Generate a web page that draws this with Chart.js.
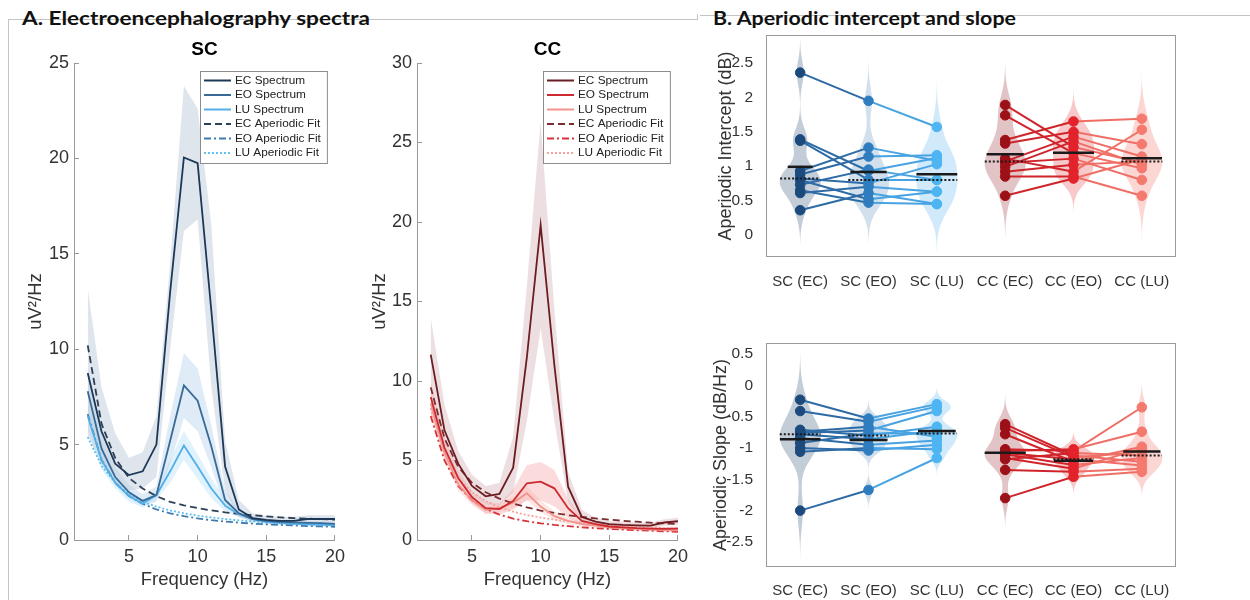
<!DOCTYPE html>
<html><head><meta charset="utf-8">
<script src="https://cdn.jsdelivr.net/npm/chart.js@4.4.1/dist/chart.umd.min.js"></script>
<style>
html,body{margin:0;padding:0;background:#fff}
body{width:1250px;height:600px;position:relative;overflow:hidden;font-family:'Liberation Sans',Arial,sans-serif}
canvas{position:absolute}
.hdr{position:absolute;font-family:Lato,'Open Sans',sans-serif;font-weight:700;font-size:18px;line-height:18px;white-space:nowrap;color:#111;transform-origin:left top}
.ln{position:absolute;background:#c4c4c4}
</style></head><body>
<div class="ln" style="left:8px;top:19px;width:690px;height:1px"></div>
<div class="ln" style="left:8px;top:19px;width:1px;height:581px"></div>
<div class="ln" style="left:697px;top:14px;width:1px;height:6px"></div>
<div class="ln" style="left:700px;top:15px;width:550px;height:1px"></div>
<div id="hA" class="hdr" style="left:22px;top:9px" data-w="348">A. Electroencephalography spectra</div>
<div id="hB" class="hdr" style="left:713px;top:9px" data-w="303">B. Aperiodic intercept and slope</div>
<canvas id="cSC" width="356" height="600" style="left:0;top:0"></canvas>
<canvas id="cCC" width="354" height="600" style="left:345px;top:0"></canvas>
<canvas id="cInt" width="550" height="280" style="left:700px;top:20px"></canvas>
<canvas id="cSlp" width="550" height="300" style="left:700px;top:300px"></canvas>
<script>
// ---------------- DATA ----------------
const freqHz = [2,3,4,5,6,7,8,9,10,11,12,13,14,15,16,17,18,19,20];
const freqTicks = [5,10,15,20];
const scYTicks = [0,5,10,15,20,25];
const ccYTicks = [0,5,10,15,20,25,30];

// SC spectra (uV^2/Hz)
const scEC = [8.75,5.7,4.0,3.4,3.6,5.0,13.0,20.05,19.75,12.0,3.85,1.6,1.15,1.05,1.0,1.0,1.1,1.1,1.1];
const scEO = [7.8,4.8,3.3,2.5,2.05,2.35,5.2,8.1,7.3,4.9,2.1,1.4,1.1,1.0,0.95,0.92,0.9,0.88,0.85];
const scLU = [6.5,4.2,3.0,2.3,1.9,2.35,3.6,4.95,3.85,2.7,1.8,1.35,1.1,0.95,0.9,0.85,0.82,0.8,0.78];
const scECfit = [10.2,6.1,4.3,3.25,2.7,2.3,2.0,1.82,1.67,1.55,1.45,1.37,1.3,1.24,1.19,1.15,1.12,1.09,1.07];
const scEOfit = [6.6,4.2,3.0,2.3,1.9,1.6,1.4,1.25,1.13,1.04,0.97,0.91,0.86,0.82,0.79,0.76,0.73,0.71,0.69];
const scLUfit = [5.4,3.9,3.0,2.4,2.0,1.75,1.55,1.4,1.28,1.18,1.1,1.03,0.97,0.92,0.88,0.85,0.82,0.8,0.78];
const scEChi = [13.2,8.0,5.6,4.3,4.6,6.5,14.5,23.8,22.6,16.5,5.2,2.1,1.4,1.25,1.2,1.2,1.3,1.3,1.3];
const scEClo = [5.5,4.0,3.0,2.6,2.7,3.3,10.0,16.2,16.8,8.0,2.6,1.2,0.95,0.85,0.82,0.8,0.9,0.9,0.9];
const scEOhi = [8.8,5.5,3.8,2.9,2.4,2.8,6.5,9.8,9.0,6.0,2.6,1.6,1.25,1.1,1.05,1.0,1.0,0.98,0.95];
const scEOlo = [6.8,4.2,2.9,2.2,1.8,2.0,4.0,6.4,5.7,3.8,1.7,1.2,0.95,0.9,0.85,0.84,0.8,0.78,0.75];
const scLUhi = [7.2,4.7,3.3,2.6,2.1,2.6,4.2,5.7,4.5,3.2,2.2,1.55,1.2,1.05,1.0,0.95,0.9,0.88,0.86];
const scLUlo = [5.8,3.7,2.7,2.0,1.7,2.1,3.0,4.2,3.2,2.2,1.5,1.2,1.0,0.85,0.8,0.76,0.74,0.72,0.7];

// CC spectra (uV^2/Hz)
const ccEC = [11.66,6.9,4.8,3.4,2.75,2.9,4.55,11.5,19.8,11.0,3.35,1.45,1.15,1.0,0.95,0.92,0.9,1.1,1.18];
const ccEO = [9.0,5.8,3.9,2.7,2.0,1.95,2.45,3.57,3.67,3.25,2.0,1.2,1.0,0.85,0.8,0.75,0.72,0.7,0.72];
const ccLU = [8.6,5.5,3.5,2.5,1.9,2.0,2.35,2.94,2.1,1.5,1.2,1.0,0.9,0.8,0.75,0.7,0.66,0.63,0.6];
const ccECfit = [9.6,6.4,4.6,3.6,3.0,2.6,2.3,2.05,1.85,1.7,1.56,1.45,1.36,1.28,1.21,1.15,1.09,1.04,1.0];
const ccEOfit = [7.8,5.0,3.4,2.5,1.95,1.6,1.35,1.18,1.05,0.95,0.87,0.8,0.74,0.69,0.65,0.61,0.58,0.55,0.52];
const ccLUfit = [8.3,5.5,3.9,3.0,2.45,2.05,1.78,1.57,1.41,1.28,1.17,1.08,1.0,0.94,0.88,0.83,0.79,0.75,0.72];
const ccEChi = [14.0,8.5,5.6,4.1,3.4,3.6,6.5,16.0,26.3,14.5,4.3,1.9,1.4,1.2,1.15,1.1,1.1,1.3,1.4];
const ccEClo = [9.4,5.6,3.9,2.8,2.2,2.2,3.0,7.5,13.3,7.5,2.4,1.05,0.9,0.8,0.75,0.74,0.72,0.9,0.95];
const ccEOhi = [10.0,6.5,4.4,3.1,2.4,2.3,3.2,4.7,4.9,4.4,2.6,1.45,1.15,1.0,0.95,0.88,0.85,0.82,0.85];
const ccEOlo = [8.0,5.1,3.4,2.3,1.65,1.6,1.9,2.5,2.5,2.1,1.4,0.95,0.85,0.7,0.65,0.62,0.6,0.58,0.6];
const ccLUhi = [9.4,6.0,3.9,2.8,2.15,2.25,2.7,3.4,2.5,1.8,1.4,1.15,1.02,0.9,0.85,0.8,0.75,0.72,0.7];
const ccLUlo = [7.8,5.0,3.1,2.2,1.65,1.75,2.0,2.5,1.75,1.25,1.0,0.86,0.78,0.7,0.65,0.6,0.57,0.54,0.5];

// Panel B: conditions and per-subject values
const conditionLabels = ['SC (EC)','SC (EO)','SC (LU)','CC (EC)','CC (EO)','CC (LU)'];
const intTicks = [0,0.5,1,1.5,2,2.5];
const slpTicks = [-2.5,-2,-1.5,-1,-0.5,0,0.5];

const intSC_EC = [2.36,1.39,1.37,0.93,0.88,0.82,0.80,0.73,0.65,0.61,0.36];
const intSC_EO = [1.95,0.93,0.80,1.27,1.14,0.75,0.52,0.95,0.47,0.70,0.61];
const intSC_LU = [1.57,1.12,0.80,1.08,1.16,1.03,0.63,0.80,0.45,0.63,0.45];
const intCC_EC = [1.89,1.74,1.38,1.33,1.11,1.07,1.05,0.99,0.92,0.85,0.57];
const intCC_EO = [1.28,1.19,1.65,1.50,0.92,1.43,1.11,1.36,1.02,0.85,0.82];
const intCC_LU = [1.05,0.97,1.69,1.32,1.53,1.14,0.80,1.02,1.07,0.57,1.10];

const slpSC_EC = [-0.23,-0.41,-0.71,-0.74,-0.76,-0.78,-0.84,-0.92,-1.00,-1.06,-2.00];
const slpSC_EO = [-0.53,-0.58,-0.80,-0.66,-0.72,-0.86,-0.95,-0.77,-1.04,-1.00,-1.67];
const slpSC_LU = [-0.30,-0.34,-0.66,-0.82,-0.41,-0.72,-0.88,-0.77,-0.95,-1.02,-1.16];
const slpCC_EC = [-0.62,-0.68,-0.78,-1.02,-1.05,-1.08,-1.10,-1.16,-1.18,-1.35,-1.80];
const slpCC_EO = [-1.12,-1.15,-1.22,-1.05,-1.02,-1.18,-1.27,-1.33,-1.08,-1.38,-1.46];
const slpCC_LU = [-1.22,-1.06,-0.98,-0.35,-0.74,-1.28,-1.16,-1.01,-1.12,-1.33,-1.38];

// kernel bandwidths of the violins
const intBandwidth = [0.17,0.20,0.23,0.21,0.16,0.23];
const slpBandwidth = [0.26,0.10,0.09,0.16,0.10,0.14];

// ---------------- STYLE ----------------
Chart.defaults.font.family = "'Liberation Sans', Arial, Helvetica, sans-serif";
Chart.defaults.color = '#333';
Chart.defaults.animation = false;

const pts = arr => freqHz.map((f,i)=>({x:f,y:arr[i]}));

const boxLegend = {
  id:'boxLegend',
  afterDatasetsDraw(chart){
    const ctx = chart.ctx, a = chart.chartArea;
    const items = chart.data.datasets.filter(d=>d.inLegend);
    ctx.save();
    ctx.font = "11.8px 'Liberation Sans', Arial, sans-serif";
    const tw = Math.max(...items.map(d=>ctx.measureText(d.label).width));
    const w = 35 + tw + 6, rowH = 14.5, h = items.length*rowH + 5;
    const x = Math.round(a.right - 8 - w), y = Math.round(a.top + 8);
    ctx.fillStyle = '#fff'; ctx.fillRect(x,y,w,h);
    ctx.strokeStyle = '#8c8c8c'; ctx.lineWidth = 1; ctx.strokeRect(x+0.5,y+0.5,w,h);
    items.forEach((d,i)=>{
      const cy = y + 9.5 + rowH*i;
      ctx.setLineDash(d.borderDash || []);
      ctx.strokeStyle = d.borderColor; ctx.lineWidth = 2;
      ctx.beginPath(); ctx.moveTo(x+4,cy); ctx.lineTo(x+31,cy); ctx.stroke();
      ctx.setLineDash([]);
      ctx.fillStyle = '#222'; ctx.textBaseline = 'middle'; ctx.textAlign = 'left';
      ctx.fillText(d.label, x+35, cy);
    });
    ctx.restore();
  }
};

function spectraChart(id, o){
  const names = ['EC','EO','LU'];
  const dashes = [[7,4],[7,3,2,3],[2,2]];
  const ds = [];
  o.spec.forEach((s,i)=>ds.push({label:names[i]+' Spectrum', data:pts(s), borderColor:o.lineCols[i], borderWidth:1.8, pointRadius:0, fill:false, inLegend:true}));
  o.fit.forEach((s,i)=>ds.push({label:names[i]+' Aperiodic Fit', data:pts(s), borderColor:o.fitCols[i], borderWidth:1.8, borderDash:dashes[i], pointRadius:0, fill:false, inLegend:true}));
  o.hi.forEach((s,i)=>{
    ds.push({label:'', data:pts(s), borderWidth:0, borderColor:'rgba(0,0,0,0)', backgroundColor:o.bandCols[i], pointRadius:0, fill:'+1'});
    ds.push({label:'', data:pts(o.lo[i]), borderWidth:0, borderColor:'rgba(0,0,0,0)', pointRadius:0, fill:false});
  });
  return new Chart(document.getElementById(id), {
    type:'line',
    data:{datasets:ds},
    options:{
      responsive:false, animation:false,
      layout:{padding:{left:0,right:0,top:0,bottom:0}},
      plugins:{legend:{display:false}, tooltip:{enabled:false}},
      scales:{
        x:{type:'linear', min:1, max:20,
           afterBuildTicks:s=>{s.ticks = freqTicks.map(v=>({value:v}));},
           afterFit:s=>{s.height = 60;},
           grid:{display:true, drawOnChartArea:false, drawTicks:true, tickLength:-5, tickColor:'#9a9a9a'},
           border:{display:true, color:'#9a9a9a'},
           ticks:{font:{size:18}, padding:11, maxRotation:0, color:'#333'},
           title:{display:true, text:'Frequency (Hz)', font:{size:18.5}, color:'#333', padding:{top:0,bottom:9}}},
        xt:{type:'linear', position:'top', min:1, max:20,
           afterFit:s=>{s.height = 63;},
           grid:{display:false}, border:{display:false}, ticks:{display:false},
           title:{display:true, text:o.title, font:{size:19, weight:'bold'}, color:'#000', padding:{top:38,bottom:0}}},
        y:{type:'linear', min:0, max:o.yMax,
           afterBuildTicks:s=>{s.ticks = o.yTicks.map(v=>({value:v}));},
           afterFit:s=>{s.width = o.yWidth;},
           grid:{display:true, drawOnChartArea:false, drawTicks:true, tickLength:-5, tickColor:'#9a9a9a'},
           border:{display:true, color:'#9a9a9a'},
           ticks:{font:{size:18}, padding:10, color:'#333'},
           title:{display:true, text:'uV²/Hz', font:{size:18.5}, color:'#333', padding:{top:o.yTitlePad,bottom:0}}}
      }
    },
    plugins:[boxLegend]
  });
}

spectraChart('cSC', {title:'SC', yMax:25, yTicks:scYTicks, yWidth:74, yTitlePad:25,
  spec:[scEC,scEO,scLU], fit:[scECfit,scEOfit,scLUfit], hi:[scEChi,scEOhi,scLUhi], lo:[scEClo,scEOlo,scLUlo],
  lineCols:['#1d3857','#386a98','#52aee6'], fitCols:['#2c4058','#3f7ab0','#5ec2f0'],
  bandCols:['rgba(190,203,218,0.5)','rgba(185,212,238,0.45)','rgba(185,226,250,0.45)']});
spectraChart('cCC', {title:'CC', yMax:30, yTicks:ccYTicks, yWidth:72, yTitlePad:24,
  spec:[ccEC,ccEO,ccLU], fit:[ccECfit,ccEOfit,ccLUfit], hi:[ccEChi,ccEOhi,ccLUhi], lo:[ccEClo,ccEOlo,ccLUlo],
  lineCols:['#6b1d22','#cc2a30','#f2948c'], fitCols:['#7a2c30','#d8333a','#f5a39c'],
  bandCols:['rgba(215,185,188,0.45)','rgba(245,170,172,0.42)','rgba(250,195,190,0.4)']});

// ---------------- VIOLINS ----------------
function median(a){const s=[...a].sort((p,q)=>p-q), n=s.length; return n%2 ? s[(n-1)/2] : (s[n/2-1]+s[n/2])/2;}
function mean(a){return a.reduce((p,q)=>p+q,0)/a.length;}
function kde(vals, bw, halfW){
  const N = 120, lo = Math.min(...vals)-3*bw, hi = Math.max(...vals)+3*bw;
  const ys=[], d=[];
  for(let j=0;j<=N;j++){const yy=lo+(hi-lo)*j/N; let s=0; for(const v of vals){const z=(yy-v)/bw; s+=Math.exp(-0.5*z*z);} ys.push(yy); d.push(s);}
  const m = Math.max(...d), w = d.map(v=>v/m*halfW);
  return {ys, w, widthAt(y){ if(y<=lo||y>=hi) return 0; const t=(y-lo)/(hi-lo)*N, j=Math.floor(t), f=t-j; return w[j]*(1-f)+w[Math.min(j+1,N)]*f; }};
}
function violinPlugin(kdes, fills){
  return {id:'violins', beforeDatasetsDraw(chart){
    const {ctx, chartArea:a, scales:{x,y}} = chart;
    ctx.save(); ctx.beginPath(); ctx.rect(a.left,a.top,a.right-a.left,a.bottom-a.top); ctx.clip();
    kdes.forEach((k,i)=>{
      const pos=i+1; ctx.beginPath();
      k.ys.forEach((yy,j)=>{const px=x.getPixelForValue(pos+k.w[j]), py=y.getPixelForValue(yy); j?ctx.lineTo(px,py):ctx.moveTo(px,py);});
      for(let j=k.ys.length-1;j>=0;j--) ctx.lineTo(x.getPixelForValue(pos-k.w[j]), y.getPixelForValue(k.ys[j]));
      ctx.closePath(); ctx.fillStyle=fills[i]; ctx.fill();
    });
    ctx.restore();
  }};
}
const framePlugin = {id:'frame', afterDatasetsDraw(chart){
  const {ctx, chartArea:a} = chart; ctx.save(); ctx.strokeStyle='#9a9a9a'; ctx.lineWidth=1;
  ctx.strokeRect(Math.round(a.left)+0.5, Math.round(a.top)+0.5, Math.round(a.right-a.left)-1, Math.round(a.bottom-a.top)-1); ctx.restore();
}};

const ptCols = ['#1c4a7c','#2f7dbf','#4db5f2','#9c1117','#e3232b','#f47a6f'];
const segCols = [['#2d6ba6','#48a3e2'],['#d0242b','#ef6f66']];
const violinFills = ['rgba(40,75,115,0.28)','rgba(50,110,170,0.22)','rgba(70,170,240,0.25)','rgba(140,20,30,0.25)','rgba(225,40,45,0.25)','rgba(245,120,110,0.3)'];

function violinChart(id, o){
  const kdes = o.groups.map((g,i)=>kde(g,o.bw[i],0.3));
  const ds = [];
  o.groups.forEach((g,i)=>{
    const pos=i+1, m=mean(g), md=median(g);
    const wm=kdes[i].widthAt(m), wd=kdes[i].widthAt(md);
    ds.push({data:[{x:pos-wm,y:m},{x:pos+wm,y:m}], showLine:true, borderColor:'#1a1a1a', borderWidth:2.5, pointRadius:0});
    ds.push({data:[{x:pos-wd,y:md},{x:pos+wd,y:md}], showLine:true, borderColor:'#1a1a1a', borderWidth:2, borderDash:[2,2], pointRadius:0});
  });
  o.groups.forEach((g,i)=>ds.push({data:g.map(v=>({x:i+1,y:v})), showLine:false, pointRadius:4.8, pointBackgroundColor:ptCols[i], pointBorderColor:ptCols[i], pointBorderWidth:1}));
  [0,3].forEach((base,gi)=>{
    const seg = segCols[gi];
    o.groups[base].forEach((_,s)=>{
      ds.push({data:[0,1,2].map(k=>({x:base+k+1, y:o.groups[base+k][s]})), showLine:true, pointRadius:0, borderWidth:2, borderColor:seg[0], segment:{borderColor:c=>seg[c.p0DataIndex]}});
    });
  });
  return new Chart(document.getElementById(id), {
    type:'line', data:{datasets:ds},
    options:{
      responsive:false, animation:false,
      layout:{padding:{left:0,right:74,top:o.padTop,bottom:0}},
      plugins:{legend:{display:false}, tooltip:{enabled:false}},
      scales:{
        x:{type:'linear', min:0.5, max:6.5,
           afterBuildTicks:s=>{s.ticks = conditionLabels.map((_,i)=>({value:i+1}));},
           afterFit:s=>{s.height = o.xHeight;},
           grid:{display:false}, border:{display:false},
           ticks:{font:{size:15}, padding:o.xPad, maxRotation:0, autoSkip:false, color:'#333', callback:v=>conditionLabels[Math.round(v)-1]}},
        y:{type:'linear', min:o.yMin, max:o.yMax,
           afterBuildTicks:s=>{s.ticks = o.yTicks.map(v=>({value:v}));},
           afterFit:s=>{s.width = 66;},
           grid:{display:false}, border:{display:false},
           ticks:{font:{size:15.5}, padding:5, color:'#333', callback:v=>String(v)},
           title:{display:true, text:o.yTitle, font:{size:18}, color:'#333', padding:{top:o.yTitlePad,bottom:0}}}
      }
    },
    plugins:[violinPlugin(kdes, violinFills), framePlugin]
  });
}

violinChart('cInt', {groups:[intSC_EC,intSC_EO,intSC_LU,intCC_EC,intCC_EO,intCC_LU], bw:intBandwidth, yMin:-0.32, yMax:2.907, yTicks:intTicks,
  yTitle:'Aperiodic Intercept (dB)', yTitlePad:15, padTop:15, xHeight:43, xPad:8});
violinChart('cSlp', {groups:[slpSC_EC,slpSC_EO,slpSC_LU,slpCC_EC,slpCC_EO,slpCC_LU], bw:slpBandwidth, yMin:-2.9, yMax:0.676, yTicks:slpTicks,
  yTitle:'Aperiodic Slope (dB/Hz)', yTitlePad:10, padTop:43, xHeight:33, xPad:7});

// fit headers to their widths
document.querySelectorAll('.hdr').forEach(el=>{
  const w = el.getBoundingClientRect().width, tgt = +el.dataset.w;
  el.style.transform = 'scaleX('+(tgt/w)+')';
});
</script>
</body></html>
